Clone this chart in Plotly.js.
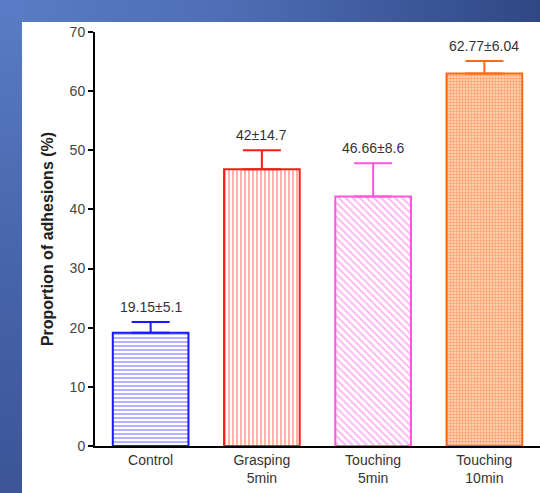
<!DOCTYPE html>
<html>
<head>
<meta charset="utf-8">
<script src="https://cdn.plot.ly/plotly-3.0.1.min.js"></script>
<style>
html,body{margin:0;padding:0;width:540px;height:493px;overflow:hidden;background:#fff;}
#top{position:absolute;left:0;top:0;width:540px;height:22px;
 background:linear-gradient(90deg,#5a7cc6 0%,#4d6cb4 45%,#2f4884 100%);}
#left{position:absolute;left:0;top:0;width:22px;height:493px;
 background:linear-gradient(180deg,#5a7cc6 0%,#4866ad 50%,#3b5596 100%);}
#chart{position:absolute;left:22px;top:22px;width:518px;height:471px;background:#fff;}
</style>
</head>
<body>
<div id="top"></div>
<div id="left"></div>
<div id="chart"></div>
<script>
var categories = ["Control", "Grasping<br>5min", "Touching<br>5min", "Touching<br>10min"];
var barValues = [19.15, 46.8, 42.2, 63.0];
var errUp = [1.8, 3.2, 5.6, 2.1];
var labels = ["19.15±5.1", "42±14.7", "46.66±8.6", "62.77±6.04"];
var lineColors = ["#1a1aff", "#ff1a1a", "#ff55dd", "#ff6a10"];
var fgColors = ["#5a5aff", "#ff5050", "#ff70e0", "#ff7a30"];
var bgColors = ["#ffffff", "#ffffff", "#ffffff", "#ffcfb0"];
var patterns = ["-", "|", "\\", "+"];
var yTicks = [0, 10, 20, 30, 40, 50, 60, 70];

var traces = categories.map(function(c, i) {
  return {
    type: "bar",
    x: [c],
    y: [barValues[i]],
    width: 0.68,
    marker: {
      color: bgColors[i],
      line: {color: lineColors[i], width: 2},
      pattern: {shape: patterns[i], fgcolor: fgColors[i], bgcolor: bgColors[i],
                size: (i === 3 ? 3 : (i === 2 ? 5 : 4)), solidity: (i === 3 ? 0.45 : (i === 2 ? 0.4 : 0.45)), fillmode: "overlay"}
    },
    error_y: {type: "data", array: [errUp[i]], arrayminus: [0], symmetric: false,
              color: lineColors[i], thickness: 2, width: 19},
    showlegend: false,
    hoverinfo: "none"
  };
});

var annotations = categories.map(function(c, i) {
  return {
    x: c, y: barValues[i] + errUp[i], xref: "x", yref: "y",
    text: labels[i], showarrow: false, yanchor: "bottom", yshift: 5,
    font: {family: "Liberation Sans, Arial, sans-serif", size: 14, color: "#333"}
  };
});

var layout = {
  width: 518, height: 471,
  margin: {l: 73, r: 0, t: 10, b: 47},
  paper_bgcolor: "#ffffff",
  plot_bgcolor: "#ffffff",
  bargap: 0.32,
  font: {family: "Liberation Sans, Arial, sans-serif", size: 12, color: "#333"},
  xaxis: {
    type: "category",
    range: [-0.5, 3.5],
    showline: true, linecolor: "#000", linewidth: 2,
    ticks: "", showgrid: false, zeroline: false,
    tickfont: {size: 14, color: "#333"},
    fixedrange: true
  },
  yaxis: {
    range: [0, 70],
    tickvals: yTicks,
    ticktext: yTicks.map(String),
    showline: true, linecolor: "#000", linewidth: 2,
    ticks: "outside", ticklen: 5, tickwidth: 2, tickcolor: "#000",
    showgrid: false, zeroline: false,
    tickfont: {size: 14, color: "#444"},
    title: {text: "<b>Proportion of adhesions (%)</b>", font: {size: 16, color: "#222"}, standoff: 12},
    fixedrange: true
  },
  annotations: annotations
};

Plotly.newPlot("chart", traces, layout, {displayModeBar: false, staticPlot: true});
</script>
</body>
</html>
